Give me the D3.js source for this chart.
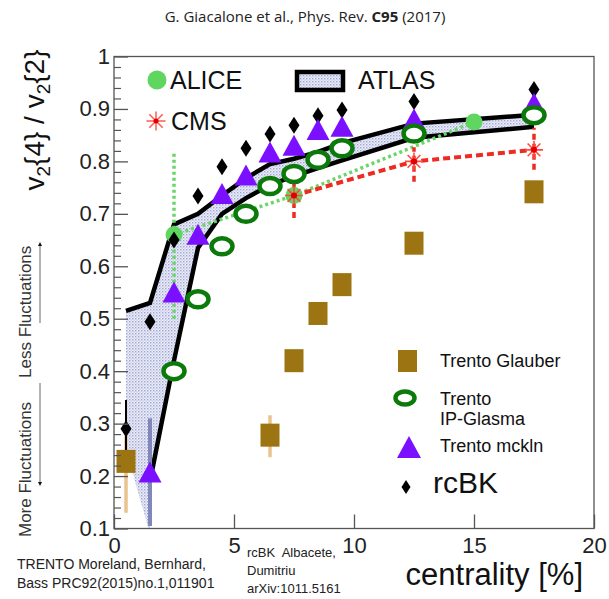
<!DOCTYPE html>
<html>
<head>
<meta charset="utf-8">
<script src="https://cdn.jsdelivr.net/npm/d3@7"></script>
<style>
  html, body { margin: 0; padding: 0; background: #fff; }
  svg { display: block; }
  text { font-family: "Liberation Sans", Arial, sans-serif; }
</style>
</head>
<body>
<svg id="chart" width="609" height="599"></svg>
<script>
// v2{4}/v2{2} versus centrality: ALICE, ATLAS, CMS data and model curves

const xTicks = [0, 5, 10, 15, 20];
const yTicks = [0.1, 0.2, 0.3, 0.4, 0.5, 0.6, 0.7, 0.8, 0.9, 1];
const yTickLabels = ["0.1", "0.2", "0.3", "0.4", "0.5", "0.6", "0.7", "0.8", "0.9", "1"];

// ATLAS systematic band (centrality, upper and lower edges); the edge at 1.5 % steps
const atlasCent  = [0.5, 1.5, 1.5, 2.5, 3.5, 4.5, 5.5, 6.5, 7.5, 8.5, 9.5, 12.5, 17.5];
const atlasUpper = [0.515, 0.53, 0.53, 0.68, 0.70, 0.735, 0.768, 0.795, 0.805, 0.818, 0.835, 0.872, 0.889];
const atlasLower = [0.25, 0.09, 0.19, 0.42, 0.635, 0.70, 0.73, 0.755, 0.772, 0.787, 0.802, 0.845, 0.866];

// ALICE
const aliceCent = [2.5, 7.5, 15];
const aliceVal  = [0.66, 0.735, 0.875];
const aliceErrLo = [0.50, 0.73, 0.875];
const aliceErrHi = [0.82, 0.74, 0.875];

// CMS
const cmsCent = [7.5, 12.5, 17.5];
const cmsVal  = [0.735, 0.80, 0.822];
const cmsErrLo = [0.692, 0.761, 0.784];
const cmsErrHi = [0.78, 0.827, 0.864];

// Trento Glauber
const glauberCent = [0.5, 6.5, 7.5, 8.5, 9.5, 12.5, 17.5];
const glauberVal  = [0.228, 0.278, 0.42, 0.51, 0.565, 0.644, 0.742];
const glauberErrLo = [0.13, 0.236, 0.42, 0.51, 0.565, 0.644, 0.742];
const glauberErrHi = [0.30, 0.316, 0.42, 0.51, 0.565, 0.644, 0.742];

// Trento IP-Glasma
const ipgCent = [2.5, 3.5, 4.5, 5.5, 6.5, 7.5, 8.5, 9.5, 12.5, 17.5];
const ipgVal  = [0.40, 0.537, 0.638, 0.70, 0.753, 0.776, 0.803, 0.825, 0.853, 0.888];

// Trento mckln
const mcklnCent = [1.5, 2.5, 3.5, 4.5, 5.5, 6.5, 7.5, 8.5, 9.5, 12.5, 17.5];
const mcklnVal  = [0.207, 0.55, 0.66, 0.738, 0.773, 0.817, 0.83, 0.86, 0.866, 0.88, 0.91];
const mcklnErrLo = [0.105];
const mcklnErrHi = [0.31];

// rcBK
const rcbkCent = [0.5, 1.5, 2.5, 3.5, 4.5, 5.5, 6.5, 7.5, 8.5, 9.5, 12.5, 17.5];
const rcbkVal  = [0.29, 0.494, 0.65, 0.734, 0.79, 0.825, 0.852, 0.869, 0.887, 0.898, 0.914, 0.937];
const rcbkErrLo = [0.24];
const rcbkErrHi = [0.345];

const svg = d3.select("#chart");
const plotL = 114, plotR = 594, plotT = 56.5, plotB = 528.5;

const x = d3.scaleLinear().domain([0, 20]).range([plotL, plotR]);
const y = d3.scaleLinear().domain([0.1, 1]).range([plotB, plotT]);

// stipple pattern for the ATLAS band
const defs = svg.append("defs");
const pat = defs.append("pattern").attr("id", "stipple")
  .attr("width", 3).attr("height", 3).attr("patternUnits", "userSpaceOnUse");
pat.append("rect").attr("width", 3).attr("height", 3).attr("fill", "#eceef8");
pat.append("rect").attr("x", 0).attr("y", 0).attr("width", 1.4).attr("height", 1.4).attr("fill", "#9fa4d4");
pat.append("rect").attr("x", 1.5).attr("y", 1.5).attr("width", 1.2).attr("height", 1.2).attr("fill", "#b9bde2");

defs.append("clipPath").attr("id", "plotclip")
  .append("rect").attr("x", plotL).attr("y", plotT).attr("width", plotR - plotL).attr("height", plotB - plotT);

// title
svg.append("text").attr("x", 305).attr("y", 22).attr("text-anchor", "middle")
  .style("font-family", "'Open Sans', sans-serif").style("font-size", "15px").attr("fill", "#222")
  .call(t => {
    t.append("tspan").text("G. Giacalone et al., Phys. Rev. ");
    t.append("tspan").attr("font-weight", "bold").text("C95");
    t.append("tspan").text(" (2017)");
  });

const plot = svg.append("g").attr("clip-path", "url(#plotclip)");

// ATLAS band
const bandPts = atlasCent.map((c, i) => [c, atlasUpper[i], atlasLower[i]]);
plot.append("path")
  .attr("d", d3.area().x(d => x(d[0])).y0(d => y(d[2])).y1(d => y(d[1]))(bandPts))
  .attr("fill", "url(#stipple)");
const line = d3.line().x(d => x(d[0])).y(d => y(d[1]));
plot.append("path").attr("d", line(bandPts.map(d => [d[0], d[1]])))
  .attr("fill", "none").attr("stroke", "#000").attr("stroke-width", 4.5);
plot.append("path").attr("d", line(bandPts.slice(2).map(d => [d[0], d[2]])))
  .attr("fill", "none").attr("stroke", "#000").attr("stroke-width", 4.5);

// ALICE dotted line and error bars
plot.append("path").attr("d", line(aliceCent.map((c, i) => [c, aliceVal[i]])))
  .attr("fill", "none").attr("stroke", "#6ad66a").attr("stroke-width", 3.5).attr("stroke-dasharray", "3,3");
plot.selectAll(".aerr").data(aliceCent).join("line")
  .attr("x1", d => x(d)).attr("x2", d => x(d))
  .attr("y1", (d, i) => y(aliceErrLo[i])).attr("y2", (d, i) => y(aliceErrHi[i]))
  .attr("stroke", "#6ad66a").attr("stroke-width", 3.5).attr("stroke-dasharray", "3,3");

// CMS dashed line and error bars
plot.append("path").attr("d", line(cmsCent.map((c, i) => [c, cmsVal[i]])))
  .attr("fill", "none").attr("stroke", "#ee2b22").attr("stroke-width", 4).attr("stroke-dasharray", "7,4");
plot.selectAll(".cerr").data(cmsCent).join("line")
  .attr("x1", d => x(d)).attr("x2", d => x(d))
  .attr("y1", (d, i) => y(cmsErrLo[i])).attr("y2", (d, i) => y(cmsErrHi[i]))
  .attr("stroke", "#ee2b22").attr("stroke-width", 3.5).attr("stroke-dasharray", "6,4");

// Glauber error bars
plot.selectAll(".gerr").data(glauberCent).join("line")
  .attr("x1", d => x(d)).attr("x2", d => x(d))
  .attr("y1", (d, i) => y(glauberErrLo[i])).attr("y2", (d, i) => y(glauberErrHi[i]))
  .attr("stroke", "#e9c48e").attr("stroke-width", 3.5);

// mckln error bar
plot.selectAll(".merr").data(mcklnErrLo).join("line")
  .attr("x1", x(mcklnCent[0])).attr("x2", x(mcklnCent[0]))
  .attr("y1", d => y(d)).attr("y2", (d, i) => y(mcklnErrHi[i]))
  .attr("stroke", "#8088bb").attr("stroke-width", 4);

// rcBK error bar
plot.selectAll(".rerr").data(rcbkErrLo).join("line")
  .attr("x1", x(rcbkCent[0])).attr("x2", x(rcbkCent[0]))
  .attr("y1", d => y(d)).attr("y2", (d, i) => y(rcbkErrHi[i]))
  .attr("stroke", "#000").attr("stroke-width", 2);

// marker shapes
const triPath = "M0,-11L11.5,10L-11.5,10Z";
const diaPath = "M0,-8.5L5.5,0L0,8.5L-5.5,0Z";
function starLines(g, r, color, w) {
  for (let k = 0; k < 4; k++) {
    const a = k * Math.PI / 4;
    g.append("line").attr("x1", -r * Math.cos(a)).attr("y1", -r * Math.sin(a))
      .attr("x2", r * Math.cos(a)).attr("y2", r * Math.sin(a))
      .attr("stroke", color).attr("stroke-width", w);
  }
}

// ALICE points
plot.selectAll(".alice").data(aliceCent).join("circle")
  .attr("cx", d => x(d)).attr("cy", (d, i) => y(aliceVal[i])).attr("r", 8.5)
  .attr("fill", "#5fd65f");

// CMS points
plot.selectAll(".cms").data(cmsCent).join("g")
  .attr("transform", (d, i) => `translate(${x(d)},${y(cmsVal[i])})`)
  .each(function () {
    const g = d3.select(this);
    starLines(g, 9, "#ff4a40", 1.6);
    g.append("circle").attr("r", 3).attr("fill", "#e00000");
  });

// rcBK diamonds
plot.selectAll(".rcbk").data(rcbkCent).join("path")
  .attr("transform", (d, i) => `translate(${x(d)},${y(rcbkVal[i])})`)
  .attr("d", diaPath).attr("fill", "#000");

// mckln triangles
plot.selectAll(".mckln").data(mcklnCent).join("path")
  .attr("transform", (d, i) => `translate(${x(d)},${y(mcklnVal[i])})`)
  .attr("d", triPath).attr("fill", "#7a10ff");

// IP-Glasma open circles
plot.selectAll(".ipg").data(ipgCent).join("ellipse")
  .attr("cx", d => x(d)).attr("cy", (d, i) => y(ipgVal[i])).attr("rx", 10.5).attr("ry", 8)
  .attr("fill", "#fff").attr("stroke", "#0b7a0b").attr("stroke-width", 4.5);

// Glauber squares
plot.selectAll(".glau").data(glauberCent).join("rect")
  .attr("x", d => x(d) - 9.5).attr("y", (d, i) => y(glauberVal[i]) - 11.5)
  .attr("width", 19).attr("height", 23).attr("fill", "#9c7412");

// frame and axes
svg.append("rect").attr("x", plotL).attr("y", plotT).attr("width", plotR - plotL).attr("height", plotB - plotT)
  .attr("fill", "none").attr("stroke", "#555").attr("stroke-width", 1.3);

const xAxis = svg.append("g").attr("transform", `translate(0,${plotB})`)
  .call(d3.axisBottom(x).tickValues(xTicks).tickSize(-14).tickPadding(9).tickFormat(d3.format("d")));
xAxis.select(".domain").remove();
xAxis.selectAll("line").attr("stroke", "#555").attr("stroke-width", 1.3);
xAxis.selectAll("text").style("font-size", "22px").attr("fill", "#222");

const yMinor = d3.range(0.12, 1.0, 0.02).filter(v => Math.abs(v * 10 - Math.round(v * 10)) > 0.05);
const yAxisMinor = svg.append("g").attr("transform", `translate(${plotL},0)`)
  .call(d3.axisLeft(y).tickValues(yMinor).tickSize(-7).tickFormat(""));
yAxisMinor.select(".domain").remove();
yAxisMinor.selectAll("line").attr("stroke", "#555").attr("stroke-width", 1.2);

const yAxis = svg.append("g").attr("transform", `translate(${plotL},0)`)
  .call(d3.axisLeft(y).tickValues(yTicks).tickSize(-14).tickPadding(4)
    .tickFormat((d, i) => yTickLabels[i]));
yAxis.select(".domain").remove();
yAxis.selectAll("line").attr("stroke", "#555").attr("stroke-width", 1.3);
yAxis.selectAll("text").style("font-size", "22px").attr("fill", "#222");

// y axis title
svg.append("text").attr("transform", "translate(44,120) rotate(-90)").attr("text-anchor", "middle")
  .style("font-size", "28px").attr("fill", "#111")
  .call(t => {
    t.append("tspan").text("v");
    t.append("tspan").attr("baseline-shift", "-30%").style("font-size", "19px").text("2");
    t.append("tspan").text("{4} / v");
    t.append("tspan").attr("baseline-shift", "-30%").style("font-size", "19px").text("2");
    t.append("tspan").text("{2}");
  });

// fluctuation arrows
defs.append("marker").attr("id", "arrowhead").attr("viewBox", "0 0 10 10").attr("refX", 5).attr("refY", 5)
  .attr("markerWidth", 4).attr("markerHeight", 5).attr("orient", "auto-start-reverse")
  .append("path").attr("d", "M0,0L10,5L0,10Z").attr("fill", "#111");
svg.append("line").attr("x1", 40).attr("x2", 40).attr("y1", 323).attr("y2", 244)
  .attr("stroke", "#666").attr("stroke-width", 1).attr("marker-end", "url(#arrowhead)");
svg.append("line").attr("x1", 40).attr("x2", 40).attr("y1", 383).attr("y2", 484)
  .attr("stroke", "#666").attr("stroke-width", 1).attr("marker-end", "url(#arrowhead)");
svg.append("text").attr("transform", "translate(31,378) rotate(-90)")
  .style("font-size", "17px").attr("fill", "#333").text("Less Fluctuations");
svg.append("text").attr("transform", "translate(31,537) rotate(-90)")
  .style("font-size", "17px").attr("fill", "#333").text("More Fluctuations");

// upper-left legend
const lg = svg.append("g");
lg.append("circle").attr("cx", 157).attr("cy", 80).attr("r", 9.5).attr("fill", "#5fd65f");
lg.append("text").attr("x", 170).attr("y", 89).style("font-size", "25px").attr("fill", "#111").text("ALICE");
const cmsLeg = lg.append("g").attr("transform", "translate(156,121)");
starLines(cmsLeg, 9.5, "#ff5a50", 1.5);
cmsLeg.append("circle").attr("r", 2.5).attr("fill", "#e00000");
lg.append("text").attr("x", 171).attr("y", 130).style("font-size", "25px").attr("fill", "#111").text("CMS");
lg.append("rect").attr("x", 297).attr("y", 72).attr("width", 46).attr("height", 18)
  .attr("fill", "url(#stipple)").attr("stroke", "#000").attr("stroke-width", 4.5);
lg.append("text").attr("x", 358).attr("y", 89).style("font-size", "25px").attr("fill", "#111").text("ATLAS");

// lower-right legend
const lr = svg.append("g");
lr.append("rect").attr("x", 398).attr("y", 350).attr("width", 19).attr("height", 22).attr("fill", "#9c7412");
lr.append("text").attr("x", 440).attr("y", 367).style("font-size", "18px").attr("fill", "#111").text("Trento Glauber");
lr.append("ellipse").attr("cx", 405).attr("cy", 398).attr("rx", 9.5).attr("ry", 6.5)
  .attr("fill", "#fff").attr("stroke", "#0b7a0b").attr("stroke-width", 4.5);
lr.append("text").attr("x", 440).attr("y", 405).style("font-size", "18px").attr("fill", "#111").text("Trento");
lr.append("text").attr("x", 440).attr("y", 425).style("font-size", "18px").attr("fill", "#111").text("IP-Glasma");
lr.append("path").attr("transform", "translate(409,447)").attr("d", "M0,-11L12,11L-12,11Z").attr("fill", "#7a10ff");
lr.append("text").attr("x", 440).attr("y", 452).style("font-size", "18px").attr("fill", "#111").text("Trento mckln");
lr.append("path").attr("transform", "translate(406,487)").attr("d", "M0,-7L4.5,0L0,7L-4.5,0Z").attr("fill", "#000");
lr.append("text").attr("x", 433).attr("y", 493).style("font-size", "30px").attr("fill", "#111").text("rcBK");

// axis title and references
svg.append("text").attr("x", 583).attr("y", 585).attr("text-anchor", "end")
  .style("font-size", "31px").attr("fill", "#111").text("centrality [%]");
const ref1 = svg.append("text").style("font-size", "14px").attr("fill", "#222");
ref1.append("tspan").attr("x", 17).attr("y", 569).text("TRENTO Moreland, Bernhard,");
ref1.append("tspan").attr("x", 17).attr("y", 588).text("Bass PRC92(2015)no.1,011901");
const ref2 = svg.append("text").style("font-size", "13px").attr("fill", "#222");
ref2.append("tspan").attr("x", 247).attr("y", 557).text("rcBK\u00A0 Albacete,");
ref2.append("tspan").attr("x", 247).attr("y", 575).text("Dumitriu");
ref2.append("tspan").attr("x", 247).attr("y", 593).text("arXiv:1011.5161");
</script>
</body>
</html>
